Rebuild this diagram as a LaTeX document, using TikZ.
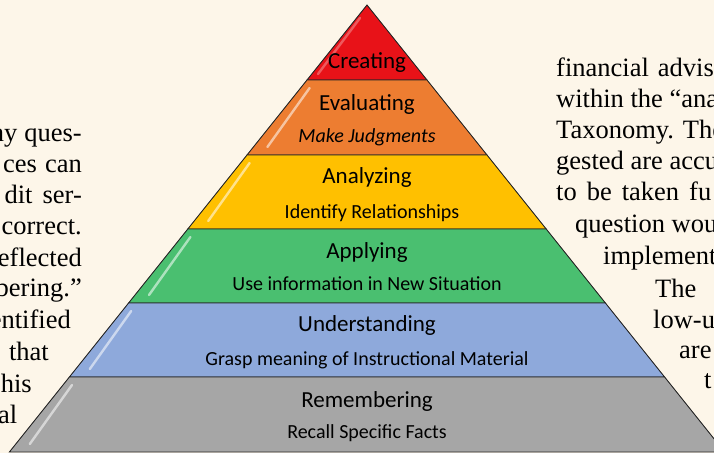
\documentclass[tikz,border=0pt]{standalone}
\usepackage{fontspec}
\setmainfont{Liberation Serif}
\newfontfamily\labelfont{Carlito}
\begin{document}
\begin{tikzpicture}[x=1pt,y=-1pt,
  layer/.style={draw=black!85,line width=0.9pt,line join=miter},
  gloss/.style={draw=white,opacity=0.55,line width=2.4pt,line cap=round},
  ttl/.style={anchor=base,inner sep=0pt,font=\labelfont\fontsize{23}{23}\selectfont},
  sub/.style={anchor=base,inner sep=0pt,font=\labelfont\fontsize{20}{20}\selectfont},
  bodyl/.style={anchor=base east,inner sep=0pt,font=\fontsize{26.5}{31}\selectfont},
  bodyr/.style={anchor=base west,inner sep=0pt,font=\fontsize{26.5}{31}\selectfont}]
\definecolor{paper}{RGB}{253,246,233}
\definecolor{creatc}{RGB}{232,18,24}
\definecolor{evalc}{RGB}{237,125,49}
\definecolor{analc}{RGB}{255,192,0}
\definecolor{applc}{RGB}{74,191,112}
\definecolor{undc}{RGB}{142,169,219}
\definecolor{remc}{RGB}{166,166,166}
\useasboundingbox (0,0) rectangle (714,453);
\clip (0,0) rectangle (714,453);
\fill[paper] (0,0) rectangle (714,453);

% surrounding column text
\node[bodyl] (l1) at (82,141) {ny\hspace{7pt}ques-};
\node[bodyl] (l2) at (82,172) {ces\hspace{8pt}can};
\node[bodyl] (l3) at (82,203) {dit\hspace{10pt}ser-};
\node[bodyl] (l4) at (82,234) {correct.};
\node[bodyl] (l5) at (82,266) {eflected};
\node[bodyl] (l6) at (82,296) {bering.''};
\node[bodyl] (l7) at (71,328) {entified};
\node[bodyl] (l8) at (49,360) {that};
\node[bodyl] (l9) at (32,392) {his};
\node[bodyr] (l10) at (-2,423) {al};

\node[bodyr] (r1) at (556,76) {financial\hspace{9pt}advis};
\node[bodyr] (r2) at (556,107) {within the ``ana};
\node[bodyr] (r3) at (556,138) {Taxonomy. The};
\node[bodyr] (r4) at (556,169) {gested are accu};
\node[bodyr] (r5) at (556,200) {to\hspace{10pt}be\hspace{10pt}taken\hspace{10pt}fu};
\node[bodyr] (r6) at (575,232) {question wou};
\node[bodyr] (r7) at (603,264) {implement};
\node[bodyr] (r8) at (655,297) {The};
\node[bodyr] (r9) at (653,328) {low-u};
\node[bodyr] (r10) at (679,358) {are};
\node[bodyr] (r11) at (704,388) {t};

% pyramid: apex at (367,5), sides slope 0.8
\coordinate (apex) at (367,5);
\path[layer,fill=creatc] (apex) -- (427,80) -- (307,80) -- cycle;
\draw[gloss,opacity=0.3] (360,18) -- (318,74);
\foreach \t/\b/\c in {80/155/evalc,155/229/analc,229/303/applc,303/377/undc,377/452/remc}{
  \path[layer,fill=\c] ({367-0.8*(\t-5)},\t) -- ({367+0.8*(\t-5)},\t)
     -- ({367+0.8*(\b-5)},\b) -- ({367-0.8*(\b-5)},\b) -- cycle;
  \draw[gloss] ({367-0.8*(\t+3)+9},\t+8) -- ({367-0.8*(\b-13)+14},\b-8);
}

% layer labels
\node[ttl] (creating) at (367,68) {Creating};
\node[ttl] (evaluating) at (367,110) {Evaluating};
\node[sub,font=\labelfont\itshape\fontsize{20}{20}\selectfont] (judge) at (367,142) {Make Judgments};
\node[ttl] (analyzing) at (367,183) {Analyzing};
\node[sub] (relate) at (372,218) {Identify Relationships};
\node[ttl] (applying) at (367,258) {Applying};
\node[sub] (useinfo) at (367,290) {Use information in New Situation};
\node[ttl] (understanding) at (367,331) {Understanding};
\node[sub] (grasp) at (367,365) {Grasp meaning of Instructional Material};
\node[ttl] (remembering) at (367,407) {Remembering};
\node[sub] (recall) at (367,438) {Recall Specific Facts};
\end{tikzpicture}
\end{document}
